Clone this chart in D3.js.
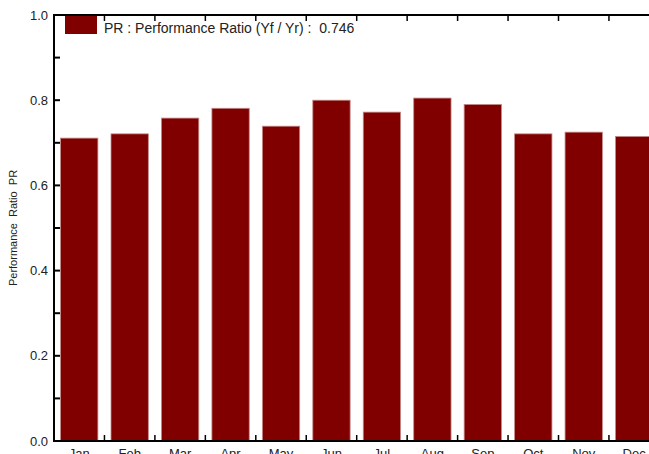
<!DOCTYPE html>
<html>
<head>
<meta charset="utf-8">
<script src="https://cdn.jsdelivr.net/npm/d3@7"></script>
<style>
  html, body { margin: 0; padding: 0; background: #fff; overflow: hidden; }
  svg { display: block; font-family: "Liberation Sans", Arial, sans-serif; }
</style>
</head>
<body>
<svg id="chart" width="649" height="454"></svg>
<script>
// Monthly performance ratio
const months = ["Jan", "Feb", "Mar", "Apr", "May", "Jun", "Jul", "Aug", "Sep", "Oct", "Nov", "Dec"];
const prValues = [0.711, 0.721, 0.758, 0.781, 0.739, 0.800, 0.772, 0.805, 0.790, 0.721, 0.725, 0.715];
const yTicks = [0.0, 0.2, 0.4, 0.6, 0.8, 1.0];
const yMinorTicks = [0.1, 0.3, 0.5, 0.7, 0.9];
const legendLabel = "PR : Performance Ratio (Yf / Yr) :\u00a0\u00a00.746";
const yTitle = "Performance\u00a0\u00a0Ratio\u00a0\u00a0PR";

const svg = d3.select("#chart");
const plotLeft = 54, plotTop = 15, plotBottom = 441;
const bandW = 50.45;
const plotRight = plotLeft + bandW * months.length;

const x = d3.scaleBand().domain(months).range([plotLeft, plotRight]).paddingInner(0.26).paddingOuter(0.13);
const y = d3.scaleLinear().domain([0, 1]).range([plotBottom, plotTop]);

// bars
svg.append("g").selectAll("rect").data(months).join("rect")
  .attr("x", d => x(d))
  .attr("y", (d, i) => y(prValues[i]))
  .attr("width", x.bandwidth())
  .attr("height", (d, i) => y(0) - y(prValues[i]))
  .attr("fill", "#800000")
  .attr("stroke", "#c48a8a")
  .attr("stroke-width", 0.8);

// band boundaries for category ticks
const bounds = d3.range(1, months.length).map(i => plotLeft + i * bandW);

// left axis
const yAxis = svg.append("g");
yAxis.append("line").attr("x1", plotLeft).attr("x2", plotLeft).attr("y1", plotTop).attr("y2", plotBottom)
  .attr("stroke", "#000").attr("stroke-width", 2);
yAxis.selectAll(".tk").data(yTicks.concat(yMinorTicks)).join("line").attr("class", "tk")
  .attr("x1", plotLeft).attr("x2", plotLeft + 6).attr("y1", d => y(d)).attr("y2", d => y(d))
  .attr("stroke", "#000").attr("stroke-width", 2);
yAxis.selectAll("text").data(yTicks).join("text")
  .attr("x", plotLeft - 6).attr("y", d => y(d)).attr("dy", "0.35em")
  .attr("text-anchor", "end").attr("font-size", 13).attr("fill", "#222")
  .text(d3.format(".1f"));

// bottom axis
const xAxis = svg.append("g");
xAxis.append("line").attr("x1", plotLeft - 1).attr("x2", 649).attr("y1", plotBottom).attr("y2", plotBottom)
  .attr("stroke", "#000").attr("stroke-width", 2);
xAxis.selectAll(".tk").data(bounds).join("line").attr("class", "tk")
  .attr("x1", d => d).attr("x2", d => d).attr("y1", plotBottom).attr("y2", plotBottom - 6)
  .attr("stroke", "#000").attr("stroke-width", 1.5);
xAxis.selectAll("text").data(months).join("text")
  .attr("x", d => x(d) + x.bandwidth() / 2).attr("y", plotBottom + 17)
  .attr("text-anchor", "middle").attr("font-size", 13).attr("fill", "#222")
  .text(d => d);

// top axis
const tAxis = svg.append("g");
tAxis.append("line").attr("x1", plotLeft - 1).attr("x2", 649).attr("y1", plotTop).attr("y2", plotTop)
  .attr("stroke", "#000").attr("stroke-width", 2);
tAxis.selectAll(".tk").data(bounds).join("line").attr("class", "tk")
  .attr("x1", d => d).attr("x2", d => d).attr("y1", plotTop).attr("y2", plotTop + 6)
  .attr("stroke", "#000").attr("stroke-width", 1.5);

// legend
svg.append("rect").attr("x", 65).attr("y", 16).attr("width", 32).attr("height", 18)
  .attr("fill", "#800000");
svg.append("text").attr("x", 104).attr("y", 33).attr("font-size", 14).attr("fill", "#222")
  .text(legendLabel);

// y title
svg.append("text")
  .attr("transform", `translate(17,${(plotTop + plotBottom) / 2}) rotate(-90)`)
  .attr("text-anchor", "middle").attr("font-size", 11).attr("fill", "#222")
  .text(yTitle);
</script>
</body>
</html>
